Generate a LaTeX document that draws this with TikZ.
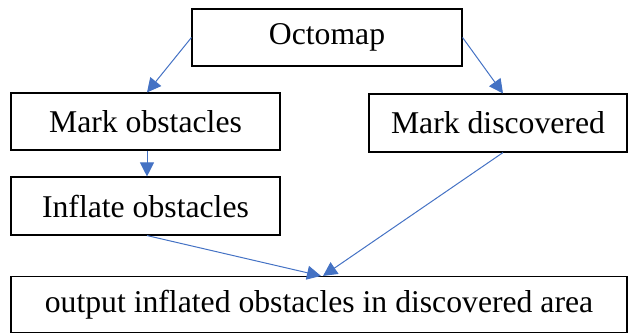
\documentclass[tikz,border=0pt]{standalone}
\usepackage{fontspec}
\setmainfont{Liberation Serif}
\usetikzlibrary{arrows.meta,calc}
\definecolor{flowblue}{RGB}{68,114,196}
\tikzset{
  stepbox/.style={draw=black, line width=1.1pt, inner sep=0pt, anchor=center,
    font=\fontsize{31.7}{36}\selectfont},
  flow/.style={draw=flowblue, line width=1pt,
    -{Triangle[length=14pt,width=14pt]}}
}
\begin{document}
\begin{tikzpicture}[x=1pt,y=-1pt]
  \useasboundingbox (0,0) rectangle (629,334);
  \node[stepbox, minimum width=270pt, minimum height=57pt] (oct) at (327,37.5) {Octomap};
  \node[stepbox, minimum width=269pt, minimum height=57pt] (mo) at (145.5,121.5) {Mark obstacles};
  \node[stepbox, minimum width=258pt, minimum height=58pt] (md) at (498,123) {Mark discovered};
  \node[stepbox, minimum width=269pt, minimum height=58pt] (inf) at (145.5,206) {Inflate obstacles};
  \node[stepbox, minimum width=616pt, minimum height=56pt] (out) at (319,304.5) {output inflated obstacles in discovered area};
  \draw[flow] (oct.west) -- ([xshift=1.5pt]mo.north);
  \draw[flow] (oct.east) -- ([xshift=5pt]md.north);
  \draw[flow] ([xshift=1.5pt]mo.south) -- ([xshift=1.5pt]inf.north);
  \draw[flow] ([xshift=1.5pt]inf.south) -- ([xshift=2pt]out.north);
  \draw[flow] ([xshift=5pt]md.south) -- ([xshift=4pt]out.north);
\end{tikzpicture}
\end{document}
